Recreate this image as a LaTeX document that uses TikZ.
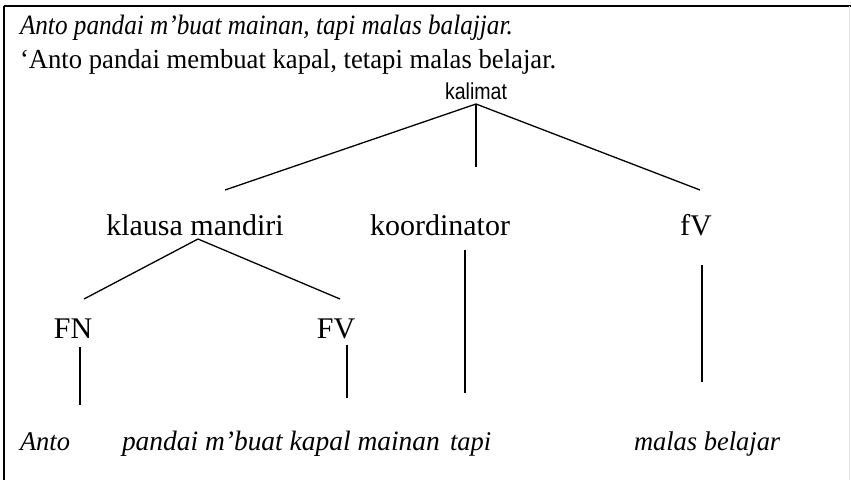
\documentclass[tikz,border=0pt]{standalone}
\usepackage{fontspec}
\setmainfont{Liberation Serif}
\newfontfamily\glossfont[FakeStretch=0.97]{Liberation Serif}
\newfontfamily\examplefont[FakeStretch=0.9]{Liberation Serif}
\newfontfamily\labelfont{Liberation Serif}
\newfontfamily\wordfont[FakeStretch=0.98]{Liberation Serif}
\newfontfamily\rootfont[FakeStretch=0.85]{Liberation Sans}
\begin{document}
\begin{tikzpicture}[x=1pt,y=-1pt,
  every node/.style={inner sep=0pt, outer sep=0pt},
  gloss/.style={anchor=base west, font=\glossfont\fontsize{27.5}{27.5}\selectfont},
  example/.style={anchor=base west, font=\examplefont\itshape\fontsize{28}{28}\selectfont},
  cat/.style={anchor=base, font=\labelfont\fontsize{30}{30}\selectfont},
  word/.style={anchor=base west, font=\wordfont\itshape\fontsize{27}{27}\selectfont},
  root/.style={anchor=base, font=\rootfont\fontsize{23}{23}\selectfont},
  branch/.style={line width=1.3pt}]
\useasboundingbox (0,0) rectangle (851,480);
% frame
\draw[line width=2pt] (4,6) -- (851,6);
\draw[line width=1.4pt] (4,6) -- (4,480);
\draw[line width=0.8pt, black!12] (849,6) -- (849,480);

% example sentence and its translation
\node[example] (ex) at (20,34) {Anto pandai m’buat mainan, tapi malas balajjar.};
\node[gloss] (tr) at (20,68) {‘Anto pandai membuat kapal, tetapi malas belajar.};

% tree labels
\node[root] (kal) at (476,99) {kalimat};
\node[cat] (klm) at (195,235) {klausa mandiri};
\node[cat] (koo) at (440,235) {koordinator};
\node[cat] (fv1) at (696,235) {fV};
\node[cat] (fn) at (73,338) {FN};
\node[cat] (fv2) at (336,338) {FV};

% words
\node[word] (w1) at (20,450) {Anto};
\node[word, font=\wordfont\itshape\fontsize{28}{28}\selectfont] (w2) at (122,450) {pandai m’buat kapal mainan};
\node[word] (w3) at (450,450) {tapi};
\node[word] (w4) at (634,450) {malas belajar};

% branch end points
\coordinate (kalB) at (476,104);
\coordinate (klmT) at (225,190);
\coordinate (kooT) at (476,167);
\coordinate (fv1T) at (700,190);
\coordinate (klmB) at (198,239);
\coordinate (fnT) at (84,299);
\coordinate (fv2T) at (340,299);
\coordinate (kooB) at (465,250);
\coordinate (w3T) at (465,393);
\coordinate (fv1B) at (702,265);
\coordinate (w4T) at (702,382);
\coordinate (fnB) at (80,347);
\coordinate (w1T) at (80,405);
\coordinate (fv2B) at (347,345);
\coordinate (w2T) at (347,398);

% branches
\draw[branch] (klmT) -- (kalB) -- (fv1T);
\draw[branch] (kalB) -- (kooT);
\draw[branch] (fnT) -- (klmB) -- (fv2T);
\draw[branch] (kooB) -- (w3T);
\draw[branch] (fv1B) -- (w4T);
\draw[branch] (fnB) -- (w1T);
\draw[branch] (fv2B) -- (w2T);
\end{tikzpicture}
\end{document}
